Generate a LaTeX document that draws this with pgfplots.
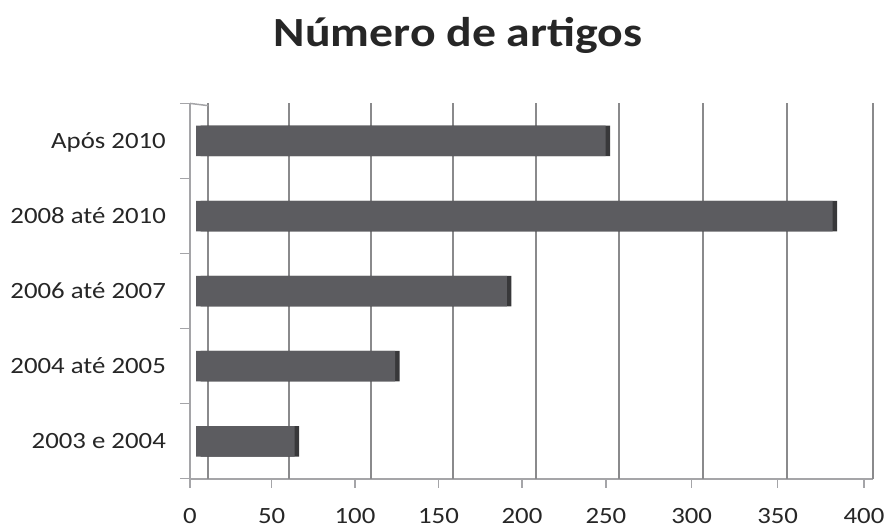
\documentclass[border=0pt]{standalone}
\usepackage{pgfplots}
\pgfplotsset{compat=1.18}
\usepackage{fontspec}
\setmainfont{Carlito}[FakeStretch=1.15]

\definecolor{barface}{RGB}{92,92,96}
\definecolor{barside}{RGB}{56,56,58}
\definecolor{gridgray}{RGB}{138,138,140}
\definecolor{wallgray}{RGB}{165,165,168}
\definecolor{labelgray}{RGB}{38,38,38}

\pgfplotstableread{
y  artigos
0  60
1  121
2  189
3  387
4  249
}\artigos

\begin{document}
\begin{tikzpicture}
\useasboundingbox (0,0) rectangle (886bp,529bp);
\node[anchor=base, font=\bfseries\fontsize{41.5bp}{48bp}\selectfont, text=labelgray]
  at (458bp,482.3bp) {Número de artigos};
\begin{axis}[
  scale only axis, width=682.9bp, height=375.4bp,
  at={(190bp,50.2bp)}, anchor=south west,
  xmin=-3.65, xmax=411.5, ymin=-0.5, ymax=4.5,
  axis x line*=bottom, axis y line*=left,
  axis line style={wallgray, line width=1.5bp, -},
  xbar, bar width=30.5bp, bar shift=0pt,
  % ticks and labels on the front edge of the floor
  xtick={-3.65,46.02,96.66,147.4,198.2,249.2,301.3,353.6,406.1},
  xticklabels={0,50,100,150,200,250,300,350,400},
  % gridlines on the back wall
  extra x ticks={7.48,56.53,106.4,156.4,206.7,257.3,308.4,359.5,411.4},
  extra x tick labels={},
  extra x tick style={grid=major, major tick length=0pt},
  major grid style={gridgray, line width=1.8bp},
  ytick={0,...,4},
  yticklabels={2003 e 2004, 2004 até 2005, 2006 até 2007, 2008 até 2010, Após 2010},
  minor ytick={-0.5,0.5,...,4.5},
  tick align=outside,
  major tick length=9bp, minor tick length=10bp,
  major y tick style={draw=none},
  tick style={wallgray, line width=1.2bp},
  /pgf/number format/assume math mode=true,
  tick label style={font=\fontsize{23.3bp}{28bp}\selectfont, text=labelgray,
    inner sep=0pt, text height=14.7bp, text depth=0pt},
  yticklabel style={anchor=east, xshift=-15bp},
  xticklabel style={anchor=north, yshift=-21bp},
  clip=false,
]
% side face of each bar (depth), then the front face on top
\addplot[fill=barside, draw=none, xshift=4.5bp] table[x=artigos, y=y] {\artigos};
\addplot[fill=barface, draw=none] table[x=artigos, y=y] {\artigos};
% top edge of the side wall
\draw[wallgray, line width=1.5bp] (axis cs:-3.65,4.5) -- (axis cs:7.48,4.47);
\end{axis}
\end{tikzpicture}
\end{document}
